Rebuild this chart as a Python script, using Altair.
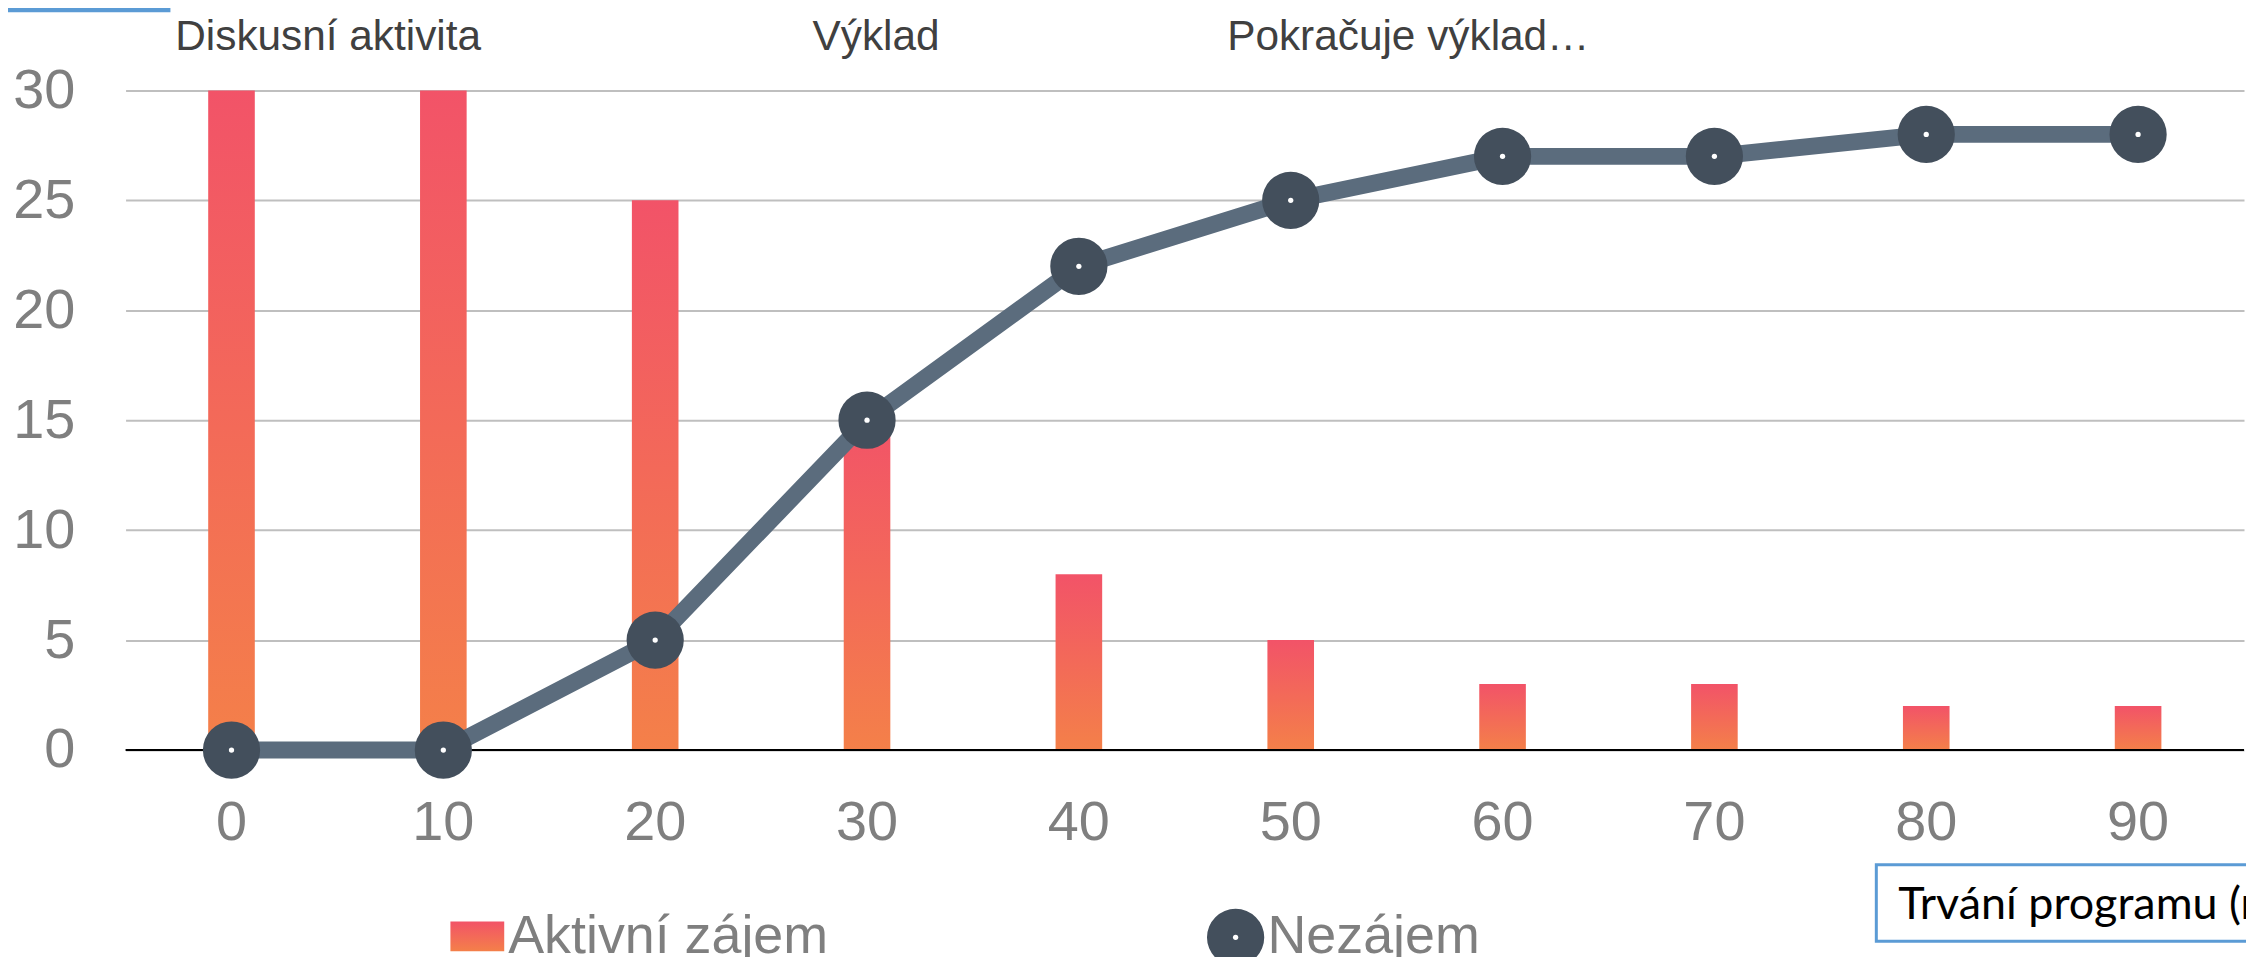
import altair as alt
import pandas as pd

# ---- data ----
minutes = ["0", "10", "20", "30", "40", "50", "60", "70", "80", "90"]
aktivni = [30, 30, 25, 15, 8, 5, 3, 3, 2, 2]
nezajem = [0, 0, 5, 15, 22, 25, 27, 27, 28, 28]
series = ["Aktivní zájem", "Nezájem"]
phases = ["Diskusní aktivita", "Výklad", "Pokračuje výklad…"]
phase_at = ["0", "30", "50"]
phase_dx = [97, 9, 118]
y_ticks = [0, 5, 10, 15, 20, 25, 30]
axis_title = ["Trvání programu (min)"]

df = pd.DataFrame({"min": minutes, "akt": aktivni, "nez": nezajem})

W, H = 2126, 662
FONT = "Liberation Sans"
GRAD = alt.LinearGradient(
    gradient="linear", x1=0, y1=0, x2=0, y2=1,
    stops=[alt.GradientStop(color="#F25368", offset=0),
           alt.GradientStop(color="#F48049", offset=1)],
)
LINE_C = "#5B6C7D"
MARK_C = "#434F5C"
MSIZE = 3300
DSIZE = 28

xs = alt.Scale(domain=minutes, paddingInner=0.78, paddingOuter=0.39)
ys = alt.Scale(domain=[0, 30], nice=False)

base = alt.Chart(df)

bars = base.mark_bar(color=GRAD).encode(
    x=alt.X("min:N", scale=xs, sort=minutes, title=None,
            axis=alt.Axis(title=None, labelAngle=0, labelFontSize=56, labelColor="#7F7F7F",
                          labelFont=FONT, ticks=False, domain=False, labelPadding=46, grid=False)),
    y=alt.Y("akt:Q", scale=ys, title=None,
            axis=alt.Axis(title=None, values=y_ticks, labelFontSize=56, labelColor="#7F7F7F",
                          labelFont=FONT, ticks=False, domain=False, labelPadding=51,
                          grid=True, gridColor="#BFBFBF", gridWidth=2)),
)

zero = alt.Chart(pd.DataFrame({"v": [0]})).mark_rule(color="#000000", strokeWidth=2).encode(
    y=alt.Y("v:Q", scale=ys, title=None)
)

enc = dict(
    x=alt.X("min:N", scale=xs, sort=minutes, title=None),
    y=alt.Y("nez:Q", scale=ys, title=None),
)
line = base.mark_line(color=LINE_C, strokeWidth=17).encode(**enc)
pts = base.mark_point(filled=True, shape="circle", color=MARK_C, size=MSIZE, opacity=1).encode(**enc)
dots = base.mark_point(filled=True, shape="circle", color="#FFFFFF", size=DSIZE, opacity=1).encode(**enc)

annots = []
for lab, at, dx in zip(phases, phase_at, phase_dx):
    annots.append(
        alt.Chart(pd.DataFrame({"min": [at], "label": [lab], "y": [30]}))
        .mark_text(fontSize=42.5, color="#404040", font=FONT, baseline="alphabetic",
                   align="center", dx=dx, dy=-41)
        .encode(x=alt.X("min:N", scale=xs, sort=minutes, title=None),
                y=alt.Y("y:Q", scale=ys, title=None),
                text="label:N")
    )

# legend (custom, to reproduce gradient swatch and marker)
leg1_sw = alt.Chart(pd.DataFrame({"s": [series[0]]})).mark_rect(color=GRAD).encode(
    x=alt.value(326), x2=alt.value(380), y=alt.value(834), y2=alt.value(864))
leg1_tx = alt.Chart(pd.DataFrame({"s": [series[0]]})).mark_text(
    fontSize=54, color="#7F7F7F", font=FONT, align="left", baseline="alphabetic").encode(
    x=alt.value(384), y=alt.value(866), text="s:N")
leg2_pt = alt.Chart(pd.DataFrame({"s": [series[1]]})).mark_point(
    filled=True, shape="circle", color=MARK_C, size=MSIZE, opacity=1).encode(
    x=alt.value(1114), y=alt.value(850))
leg2_dot = alt.Chart(pd.DataFrame({"s": [series[1]]})).mark_point(
    filled=True, shape="circle", color="#FFFFFF", size=DSIZE, opacity=1).encode(
    x=alt.value(1114), y=alt.value(850))
leg2_tx = alt.Chart(pd.DataFrame({"s": [series[1]]})).mark_text(
    fontSize=54, color="#7F7F7F", font=FONT, align="left", baseline="alphabetic").encode(
    x=alt.value(1146), y=alt.value(866), text="s:N")

# axis title in a bordered text box (cropped at the right edge)
tbox = alt.Chart(pd.DataFrame({"t": axis_title})).mark_rect(
    fill="#FFFFFF", stroke="#5B9BD5", strokeWidth=3).encode(
    x=alt.value(1757), x2=alt.value(2400), y=alt.value(777), y2=alt.value(854))
ttext = alt.Chart(pd.DataFrame({"t": axis_title})).mark_text(
    fontSize=45, color="#000000", font="Lato", align="left", baseline="alphabetic").encode(
    x=alt.value(1779), y=alt.value(832), text="t:N")

# fragment of a box border at the top-left
blue = alt.Chart(pd.DataFrame({"t": [0]})).mark_rule(color="#5B9BD5", strokeWidth=5).encode(
    x=alt.value(-118), x2=alt.value(45), y=alt.value(-81))

chart = alt.layer(
    bars, zero, line, pts, dots, *annots,
    leg1_sw, leg1_tx, leg2_pt, leg2_dot, leg2_tx, tbox, ttext, blue
).properties(
    width=W, height=H,
    autosize=alt.AutoSizeParams(type="none"),
    padding={"left": 118, "top": 81, "right": 2, "bottom": 206},
    background="#FFFFFF",
).configure_view(stroke=None)

chart.save("out.html", embed_options={"renderer": "svg", "actions": False})
